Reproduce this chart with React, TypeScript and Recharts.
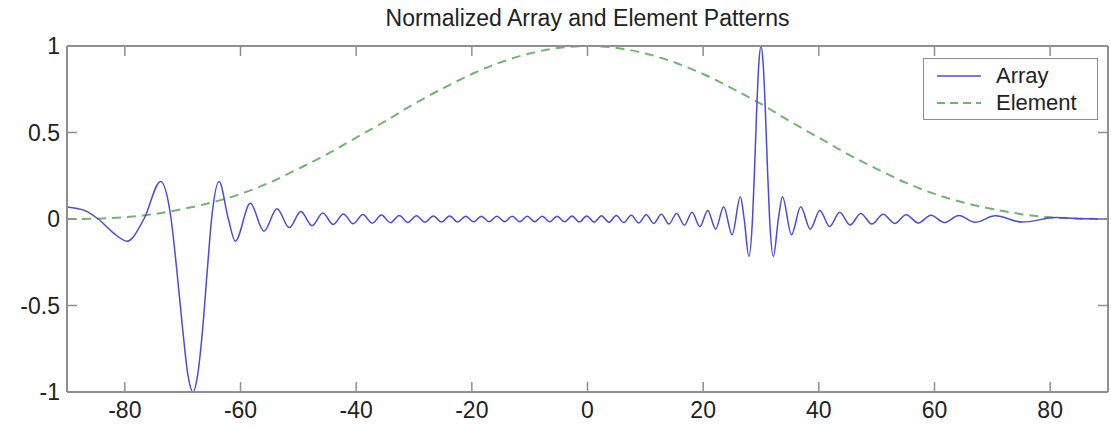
import { LineChart, Line, XAxis, YAxis } from 'recharts'

const FONT = 'Arial, "Liberation Sans", sans-serif'

// Array pattern: angle (deg) and normalized value
const ARRAY_ANGLE = [
  -90, -87, -84.6, -82, -79.6, -76.7, -73.8, -72.0, -71.0, -70.0, -69.1, -68.2, -67.4, -66.55, -65.75, -65.0,
  -63.7, -62.1, -60.9, -58.3, -55.95,
  -53.69, -51.57, -49.56, -47.63, -45.77, -43.97, -42.21, -40.51, -38.84, -37.22, -35.63, -34.07, -32.55,
  -31.04, -29.56, -28.1, -26.66, -25.24, -23.83, -22.44, -21.06, -19.7, -18.35, -17.0, -15.67, -14.35,
  -13.03, -11.72, -10.42, -9.12, -7.83, -6.54, -5.25, -3.97, -2.69, -1.41, -0.13, 1.15, 2.43, 3.71, 4.99,
  6.28, 7.57, 8.86, 10.16, 11.46, 12.77, 14.08, 15.4, 16.74, 18.08, 19.43, 20.79, 22.16, 23.55,
  25.0, 26.43, 27.09, 27.91, 28.53, 28.9, 29.26, 29.63, 30.0, 30.37, 30.74, 31.11, 31.49, 32.14, 33.0,
  33.71, 35.27, 36.87, 38.52, 40.17, 41.87, 43.61, 45.4, 47.25, 49.17, 51.1, 53.1, 55.1, 57.2, 59.4,
  61.7, 64.2, 67.0, 70.5, 75.2, 81, 86, 90,
]
const ARRAY_VALUE = [
  0.07, 0.05, 0, -0.08, -0.128, 0, 0.217, 0, -0.3, -0.637, -0.9, -1, -0.9, -0.637, -0.3, 0,
  0.217, 0, -0.128, 0.091, -0.071,
  0.0586, -0.0498, 0.0434, -0.0386, 0.0347, -0.0317, 0.0292, -0.0271, 0.0254, -0.0239, 0.0227, -0.0216, 0.0206,
  -0.0198, 0.0191, -0.0185, 0.018, -0.0175, 0.0171, -0.0168, 0.0165, -0.0162, 0.016, -0.0159, 0.0157, -0.0157,
  0.0156, -0.0156, 0.0157, -0.0157, 0.0159, -0.016, 0.0162, -0.0165, 0.0168, -0.0171, 0.0175, -0.018, 0.0185, -0.0191, 0.0198,
  -0.0206, 0.0216, -0.0227, 0.0239, -0.0254, 0.0271, -0.0292, 0.0317, -0.0347, 0.0386, -0.0434, 0.0498, -0.0586, 0.071,
  -0.091, 0.128, 0, -0.217, 0, 0.3, 0.637, 0.9, 1, 0.9, 0.637, 0.3, 0, -0.217, 0,
  0.128, -0.091, 0.071, -0.0586, 0.0498, -0.0434, 0.0386, -0.0347, 0.0317, -0.0292, 0.0271, -0.0254, 0.0239, -0.0227, 0.0216,
  -0.0206, 0.0198, -0.0191, 0.0185, -0.018, 0.008, 0.002, 0,
]

// Element pattern, every 5 degrees
const ELEMENT_ANGLE = [
  -90, -85, -80, -75, -70, -65, -60, -55, -50, -45, -40, -35, -30, -25, -20, -15, -10, -5,
  0, 5, 10, 15, 20, 25, 30, 35, 40, 45, 50, 55, 60, 65, 70, 75, 80, 85, 90,
]
const ELEMENT_VALUE = [
  0, 0.002, 0.01, 0.028, 0.058, 0.095, 0.145, 0.21, 0.29, 0.375, 0.47, 0.565, 0.665, 0.755, 0.838, 0.906, 0.957, 0.989,
  1, 0.989, 0.957, 0.906, 0.838, 0.755, 0.665, 0.565, 0.47, 0.375, 0.29, 0.21, 0.145, 0.095, 0.058, 0.028, 0.01, 0.002, 0,
]

const X_TICKS = [-80, -60, -40, -20, 0, 20, 40, 60, 80]
const Y_TICKS = [-1, -0.5, 0, 0.5, 1]

const SERIES = [
  { name: 'Array', color: '#4b4bd6', dash: undefined as string | undefined },
  { name: 'Element', color: '#6fb46f', dash: '9 6' },
]

const arrayData = ARRAY_ANGLE.map((x, i) => ({ x, y: ARRAY_VALUE[i] }))
const elementData = ELEMENT_ANGLE.map((x, i) => ({ x, y: ELEMENT_VALUE[i] }))

const FRAME = '#8f8f8f'
const TEXT = '#222'

// tick marks only, no label (top and right frame)
const NoLabel = () => <g />

function PatternLegend() {
  return (
    <div
      style={{
        position: 'absolute',
        left: 923,
        top: 58,
        width: 175,
        height: 62,
        border: `1px solid ${FRAME}`,
        background: '#fff',
        boxSizing: 'border-box',
        padding: '3px 0 0 12px',
      }}
    >
      {SERIES.map((s) => (
        <div key={s.name} style={{ display: 'flex', alignItems: 'center', height: 27 }}>
          <svg width={46} height={6} style={{ marginRight: 14 }}>
            <line x1={1} y1={3} x2={45} y2={3} stroke={s.color} strokeWidth={s.dash ? 2 : 1.5} strokeDasharray={s.dash ? '8 5' : undefined} />
          </svg>
          <span style={{ fontSize: 22, color: TEXT, fontFamily: FONT }}>{s.name}</span>
        </div>
      ))}
    </div>
  )
}

export default function App() {
  return (
    <div style={{ position: 'absolute', left: 0, top: 0, width: 1111, height: 427, background: '#fff', fontFamily: FONT }}>
      <div
        style={{
          position: 'absolute',
          left: 67,
          top: 5,
          width: 1041,
          textAlign: 'center',
          fontSize: 23,
          lineHeight: '26px',
          color: TEXT,
        }}
      >
        Normalized Array and Element Patterns
      </div>
      <LineChart width={1111} height={427} margin={{ top: 45, right: 2, bottom: 0, left: 0 }}>
        <XAxis
          dataKey="x"
          type="number"
          domain={[-90, 90]}
          ticks={X_TICKS}
          allowDataOverflow
          height={35}
          tickSize={-10}
          tickMargin={20}
          axisLine={{ stroke: FRAME, strokeWidth: 2 }}
          tickLine={{ stroke: FRAME, strokeWidth: 1.5 }}
          tick={{ fontSize: 23, fill: TEXT, fontFamily: FONT }}
        />
        <XAxis
          xAxisId="top"
          orientation="top"
          dataKey="x"
          type="number"
          domain={[-90, 90]}
          ticks={X_TICKS}
          allowDataOverflow
          height={1}
          tickSize={-10}
          tickMargin={0}
          tick={NoLabel}
          axisLine={{ stroke: FRAME, strokeWidth: 2 }}
          tickLine={{ stroke: FRAME, strokeWidth: 1.5 }}
        />
        <YAxis
          type="number"
          domain={[-1, 1]}
          ticks={Y_TICKS}
          allowDataOverflow
          width={67}
          tickSize={-10}
          tickMargin={17}
          axisLine={{ stroke: FRAME, strokeWidth: 2 }}
          tickLine={{ stroke: FRAME, strokeWidth: 1.5 }}
          tick={{ fontSize: 23, fill: TEXT, fontFamily: FONT }}
        />
        <YAxis
          yAxisId="right"
          orientation="right"
          type="number"
          domain={[-1, 1]}
          ticks={Y_TICKS}
          allowDataOverflow
          width={1}
          tickSize={-10}
          tickMargin={0}
          tick={NoLabel}
          axisLine={{ stroke: FRAME, strokeWidth: 2 }}
          tickLine={{ stroke: FRAME, strokeWidth: 1.5 }}
        />
        <Line
          data={elementData}
          dataKey="y"
          name="Element"
          type="monotone"
          stroke={SERIES[1].color}
          strokeWidth={2}
          strokeDasharray={SERIES[1].dash}
          dot={false}
          isAnimationActive={false}
        />
        <Line
          data={arrayData}
          dataKey="y"
          name="Array"
          type="monotone"
          stroke={SERIES[0].color}
          strokeWidth={1.5}
          dot={false}
          isAnimationActive={false}
        />
      </LineChart>
      <PatternLegend />
    </div>
  )
}
